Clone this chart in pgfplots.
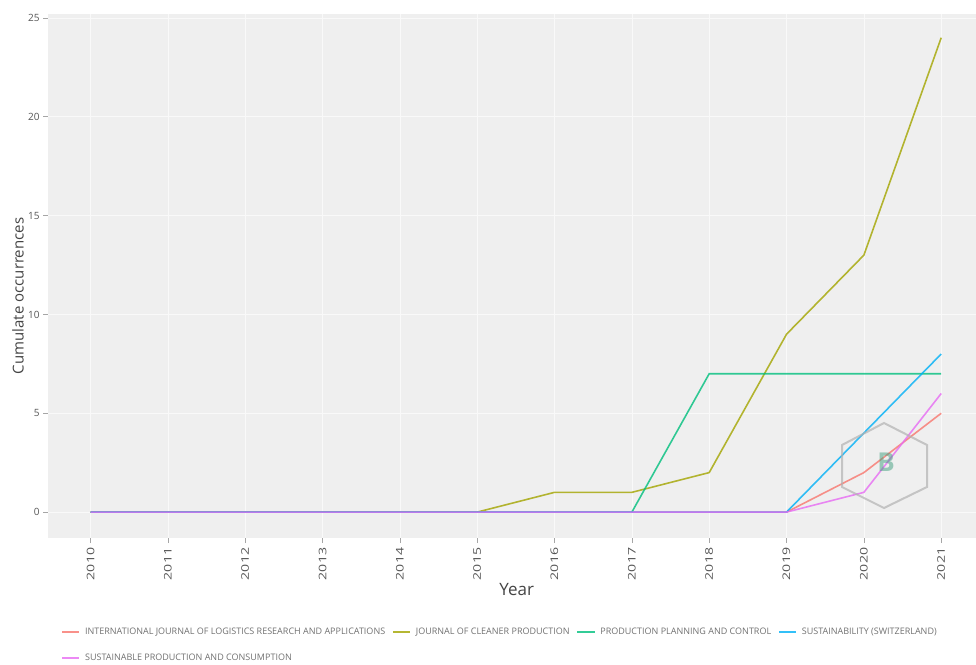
\documentclass[border=0pt]{standalone}
\usepackage{pgfplots}
\usepackage{pgfplotstable}
\pgfplotsset{compat=1.18}
\usepackage{fontspec}
\setmainfont{Open Sans}
\definecolor{cA}{HTML}{F8766D}
\definecolor{cB}{HTML}{A3A500}
\definecolor{cC}{HTML}{00BF7D}
\definecolor{cD}{HTML}{00B0F6}
\definecolor{cE}{HTML}{E76BF3}
\definecolor{panel}{HTML}{EFEFEF}
\definecolor{tickgray}{HTML}{555555}
\definecolor{titlegray}{HTML}{444444}
\definecolor{leggray}{HTML}{707070}
\pgfplotstableread{
year A  B  C  D  E
2010 0  0  0  0  0
2011 0  0  0  0  0
2012 0  0  0  0  0
2013 0  0  0  0  0
2014 0  0  0  0  0
2015 0  0  0  0  0
2016 0  1  0  0  0
2017 0  1  0  0  0
2018 0  2  7  0  0
2019 0  9  7  0  0
2020 2  13 7  4  1
2021 5  24 7  8  6
}\datatable
\begin{document}
\begin{tikzpicture}[x=1pt,y=1pt]
\path[use as bounding box] (0,0) rectangle (976,664);
\begin{axis}[
  at={(48pt,126pt)}, anchor=south west,
  scale only axis, width=928pt, height=524pt,
  xmin=2009.45, xmax=2021.45, ymin=-1.31, ymax=25.2,
  axis background/.style={fill=panel},
  axis line style={draw=none},
  xtick={2010,...,2021}, ytick={0,5,...,25},
  /pgf/number format/1000 sep={},
  /pgf/number format/assume math mode=true,
  tick pos=left, tick align=outside, major tick length=5pt,
  every tick/.style={draw=black!35, line width=0.6pt},
  xticklabel style={rotate=90, xscale=1.35, anchor=east, font=\fontsize{10.5}{12}\selectfont, text=tickgray},
  yticklabel style={font=\fontsize{10}{12}\selectfont, text=tickgray},
  grid=major, major grid style={draw=white!60!panel, line width=0.6pt},
  xlabel={Year}, xlabel style={font=\fontsize{17}{20}\selectfont, text=titlegray, at={(axis description cs:0.505,0)}, anchor=north, yshift=-42pt},
  ylabel={Cumulate occurrences}, ylabel style={font=\fontsize{15}{18}\selectfont, text=titlegray, at={(axis description cs:-0.0323,0.462)}, anchor=center},
  legend columns=4,
  legend cell align=left,
  legend style={at={(0.011,-0.164)}, anchor=north west, draw=none, fill=none,
    font=\fontsize{9}{10}\selectfont, nodes={text=leggray}, row sep=14pt,
    /tikz/every odd column/.append style={column sep=3pt},
    /tikz/every even column/.append style={column sep=5pt}},
  every axis plot/.append style={line width=1.6pt, opacity=0.8, mark=none},
  clip=false,
]
\addplot[cA] table[x=year, y=A] {\datatable};
\addlegendentry{INTERNATIONAL JOURNAL OF LOGISTICS RESEARCH AND APPLICATIONS}
\addplot[cB] table[x=year, y=B] {\datatable};
\addlegendentry{JOURNAL OF CLEANER PRODUCTION}
\addplot[cC] table[x=year, y=C] {\datatable};
\addlegendentry{PRODUCTION PLANNING AND CONTROL}
\addplot[cD] table[x=year, y=D] {\datatable};
\addlegendentry{SUSTAINABILITY (SWITZERLAND)}
\addplot[cE] table[x=year, y=E] {\datatable};
\addlegendentry{SUSTAINABLE PRODUCTION AND CONSUMPTION}
\end{axis}
% watermark
\draw[black!30, line width=2pt, opacity=0.7] (884,241) -- (927,219) -- (927,177) -- (884,156) -- (842,177) -- (842,219) -- cycle;
\node[text=cC!50!gray, opacity=0.5, font=\fontsize{26}{28}\selectfont\bfseries] at (886,202) {B};
\end{tikzpicture}
\end{document}
